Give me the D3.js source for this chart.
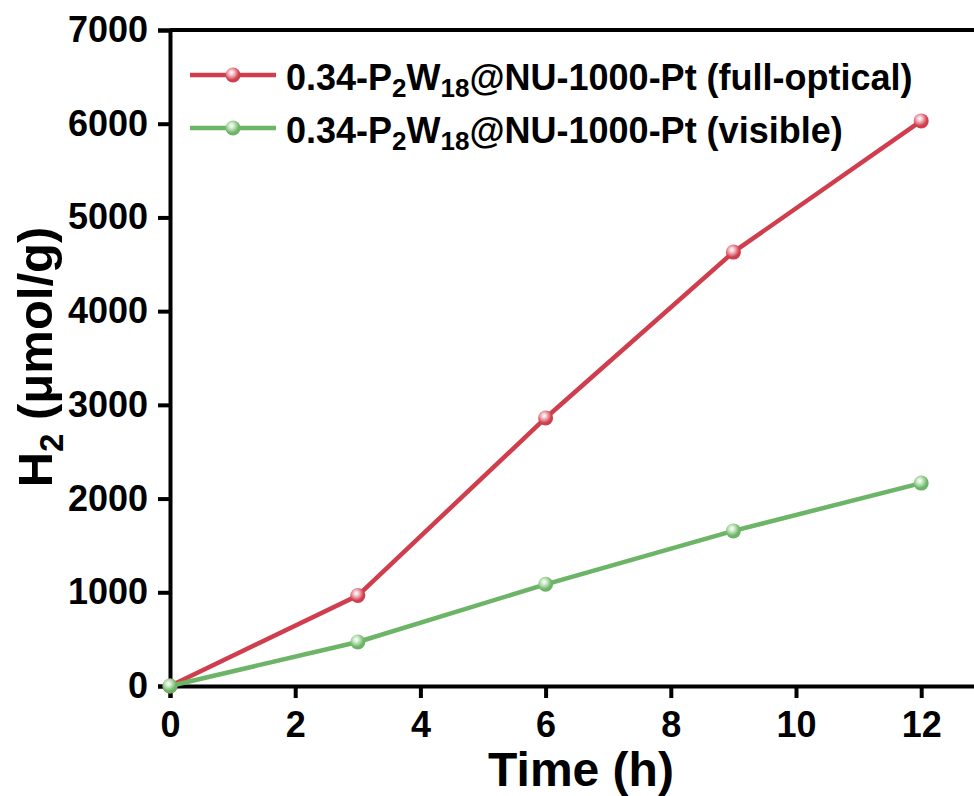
<!DOCTYPE html>
<html>
<head>
<meta charset="utf-8">
<script src="https://cdn.jsdelivr.net/npm/d3@7"></script>
<style>
  body { margin: 0; background: #fff; }
  svg text { font-family: "Liberation Sans", Arial, sans-serif; font-weight: bold; }
</style>
</head>
<body>
<svg width="974" height="796"></svg>
<script>
// time points (h)
const times = [0, 3, 6, 9, 12];
// H2 evolution (umol/g)
const fullOptical = [0, 965, 2860, 4630, 6030];
const visible = [0, 470, 1085, 1655, 2165];
const xTicks = [0, 2, 4, 6, 8, 10, 12];
const yTicks = [0, 1000, 2000, 3000, 4000, 5000, 6000, 7000];

const series = [
  { name: "full-optical", values: fullOptical, color: "#d03e4e", light: "#f6c9cf" },
  { name: "visible", values: visible, color: "#6cb466", light: "#d4eed1" }
];

const svg = d3.select("svg");
const plotLeft = 170, plotTop = 30, plotBottom = 686;

const x = d3.scaleLinear().domain([0, 14]).range([plotLeft, plotLeft + 14 * 62.6]);
const y = d3.scaleLinear().domain([0, 7000]).range([plotBottom, plotTop]);

// gradients for the shiny markers
const defs = svg.append("defs");
series.forEach((s, i) => {
  const g = defs.append("radialGradient")
    .attr("id", "ball" + i)
    .attr("cx", "40%").attr("cy", "35%").attr("r", "65%");
  g.append("stop").attr("offset", "0%").attr("stop-color", "#fff");
  g.append("stop").attr("offset", "25%").attr("stop-color", s.light);
  g.append("stop").attr("offset", "75%").attr("stop-color", s.color);
});

// frame
svg.append("line")
  .attr("x1", plotLeft).attr("x2", 974).attr("y1", plotTop).attr("y2", plotTop)
  .attr("stroke", "#000").attr("stroke-width", 4);

// x axis
const xAxisG = svg.append("g").attr("transform", `translate(0,${plotBottom})`);
xAxisG.call(d3.axisBottom(x).tickValues(d3.range(1, 14, 2)).tickSize(6).tickFormat(""));
xAxisG.call(d3.axisBottom(x).tickValues(xTicks).tickSize(12).tickPadding(13).tickFormat(d3.format("d")));
xAxisG.selectAll(".domain").attr("stroke-width", 4);
xAxisG.selectAll(".tick line").attr("stroke-width", 4);
xAxisG.selectAll("text").attr("font-size", 36).attr("fill", "#000");

// y axis
const yAxisG = svg.append("g").attr("transform", `translate(${plotLeft},0)`);
yAxisG.call(d3.axisLeft(y).tickValues(d3.range(500, 7000, 1000)).tickSize(6).tickFormat(""));
yAxisG.call(d3.axisLeft(y).tickValues(yTicks).tickSize(12).tickPadding(10).tickFormat(d3.format("d")));
yAxisG.selectAll(".domain").attr("stroke-width", 4);
yAxisG.selectAll(".tick line").attr("stroke-width", 4);
yAxisG.selectAll("text").attr("font-size", 36).attr("fill", "#000");

// lines and markers
const line = d3.line().x((d, i) => x(times[i])).y(d => y(d));
series.forEach((s, i) => {
  svg.append("path")
    .attr("d", line(s.values))
    .attr("fill", "none")
    .attr("stroke", s.color)
    .attr("stroke-width", 4.5);
  svg.selectAll(".m" + i)
    .data(s.values)
    .enter()
    .append("circle")
    .attr("cx", (d, j) => x(times[j]))
    .attr("cy", d => y(d))
    .attr("r", 7.5)
    .attr("fill", `url(#ball${i})`);
});

// legend
const legend = svg.append("g");
series.forEach((s, i) => {
  const ly = 75 + i * 53;
  legend.append("line")
    .attr("x1", 190).attr("x2", 276).attr("y1", ly).attr("y2", ly)
    .attr("stroke", s.color).attr("stroke-width", 4.5);
  legend.append("circle")
    .attr("cx", 233).attr("cy", ly).attr("r", 7.5)
    .attr("fill", `url(#ball${i})`);
  const t = legend.append("text")
    .attr("x", 286).attr("y", ly + 15)
    .attr("font-size", 36);
  t.append("tspan").text("0.34-P");
  t.append("tspan").attr("dy", 7).attr("font-size", 26).text("2");
  t.append("tspan").attr("dy", -7).text("W");
  t.append("tspan").attr("dy", 7).attr("font-size", 26).text("18");
  t.append("tspan").attr("dy", -7).text(`@NU-1000-Pt (${s.name})`);
});

// axis titles
svg.append("text")
  .attr("x", 581).attr("y", 786)
  .attr("text-anchor", "middle")
  .attr("font-size", 48)
  .text("Time (h)");

const yt = svg.append("text")
  .attr("transform", "translate(52,357) rotate(-90)")
  .attr("text-anchor", "middle")
  .attr("font-size", 49);
yt.append("tspan").text("H");
yt.append("tspan").attr("dy", 11).attr("font-size", 33).text("2");
yt.append("tspan").attr("dy", -11).text(" (μmol/g)");
</script>
</body>
</html>
